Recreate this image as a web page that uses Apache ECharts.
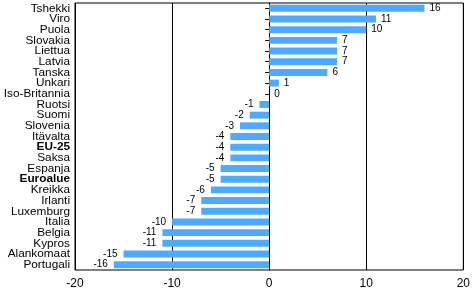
<!DOCTYPE html>
<html><head><meta charset="utf-8">
<script src="https://cdn.jsdelivr.net/npm/echarts@6/dist/echarts.min.js"></script>
<style>html,body{margin:0;padding:0;background:#fff}#c{width:473px;height:292px}</style>
</head><body><div id="c"></div>
<script>
const categories = ["Tshekki","Viro","Puola","Slovakia","Liettua","Latvia","Tanska","Unkari","Iso-Britannia","Ruotsi","Suomi","Slovenia","Itävalta","EU-25","Saksa","Espanja","Euroalue","Kreikka","Irlanti","Luxemburg","Italia","Belgia","Kypros","Alankomaat","Portugali"];
const values = [16,11,10,7,7,7,6,1,0,-1,-2,-3,-4,-4,-4,-5,-5,-6,-7,-7,-10,-11,-11,-15,-16];
const boldCats = ["EU-25","Euroalue"];
const xTicks = {min:-20, max:20, interval:10};

const chart = echarts.init(document.getElementById('c'));
chart.setOption({
  animation:false,
  grid:{left:75,right:8,top:3,bottom:22,show:true,borderColor:'#000',borderWidth:1,backgroundColor:'transparent'},
  xAxis:{type:'value',min:xTicks.min,max:xTicks.max,interval:xTicks.interval,
    axisLine:{show:false},axisTick:{show:false},
    splitLine:{show:true,lineStyle:{color:'#000',width:1}},
    axisLabel:{color:'#000',fontFamily:'Liberation Sans, Arial',fontSize:12,margin:8}},
  yAxis:{type:'category',data:categories,inverse:true,
    axisLine:{show:true,lineStyle:{color:'#000'}},
    axisTick:{show:true,alignWithLabel:true,length:4,lineStyle:{color:'#000'}},
    axisLabel:{color:'#000',fontFamily:'Liberation Sans, Arial',fontSize:11.8,margin:5,interval:0,
      formatter:v=>boldCats.includes(v)?'{b|'+v+'}':v,
      rich:{b:{fontWeight:'bold',fontSize:11.8,fontFamily:'Liberation Sans, Arial',color:'#000'}}}},
  series:[{type:'bar',data:values.map(v=>({value:v,label:{position:v<0?'left':'right',distance:v<0?6:5}})),
    barWidth:'65%',itemStyle:{color:'#4DAAFF'},
    label:{show:true,color:'#000',fontFamily:'Liberation Sans, Arial',fontSize:10}}]
});
</script></body></html>
